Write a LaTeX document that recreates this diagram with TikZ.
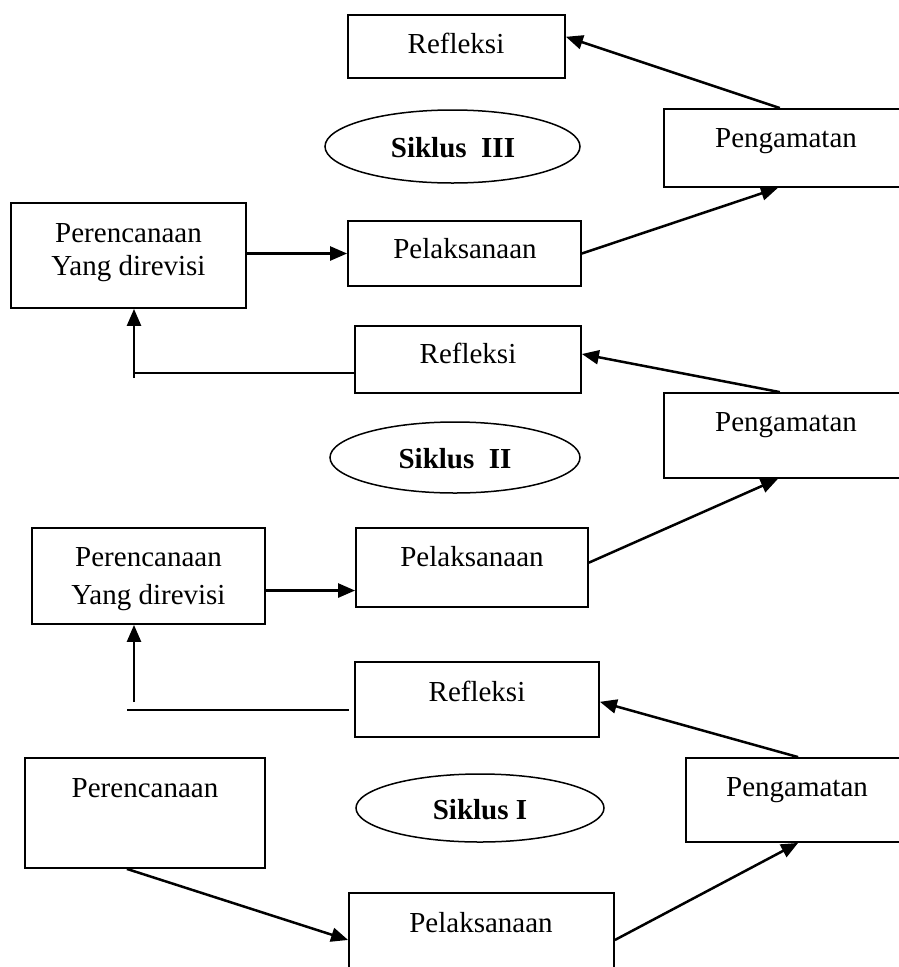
\documentclass[tikz,border=0pt]{standalone}
\usepackage{fontspec}
\setmainfont{Liberation Serif}
\usetikzlibrary{arrows.meta,shapes.geometric,calc}
\begin{document}
\begin{tikzpicture}[x=1pt,y=-1pt,
  box/.style={draw, line width=1.8pt, rectangle, inner sep=0pt},
  oval/.style={draw, line width=1.5pt, ellipse, inner sep=0pt},
  lbl/.style={font={\fontsize{29}{34}\selectfont}, inner sep=0pt, anchor=base},
  blbl/.style={lbl, font={\fontsize{29}{34}\selectfont\bfseries}},
  arr/.style={line width=2.5pt, -{Triangle[length=17pt,width=14pt]}},
  ln/.style={line width=2.2pt}]
\useasboundingbox (0,0) rectangle (899,967);

% ---------------- Siklus III ----------------
\node[box, minimum width=217, minimum height=63] (R3) at (456.5,46.5) {};
\node[box, minimum width=244, minimum height=78] (G3) at (786,148) {};
\node[oval, minimum width=255, minimum height=73] (E3) at (452.5,146.5) {};
\node[box, minimum width=235, minimum height=105] (P3p) at (128.5,255.5) {};
\node[box, minimum width=233, minimum height=65] (L3) at (464.5,253.5) {};

\node[lbl] (R3t) at (456,53) {Refleksi};
\node[lbl] (G3t) at (786,147) {Pengamatan};
\node[blbl] (E3t) at (453,157) {Siklus\ \ III};
\node[lbl] (P3t1) at (128.5,242) {Perencanaan};
\node[lbl] (P3t2) at (128.5,275) {Yang direvisi};
\node[lbl] (L3t) at (465,258) {Pelaksanaan};

% ---------------- Siklus II ----------------
\node[box, minimum width=226, minimum height=67] (R2) at (468,359.5) {};
\node[box, minimum width=244, minimum height=85] (G2) at (786,435.5) {};
\node[oval, minimum width=250, minimum height=71] (E2) at (455,457.5) {};
\node[box, minimum width=233, minimum height=96] (P2p) at (148.5,576) {};
\node[box, minimum width=232, minimum height=79] (L2) at (472,567.5) {};

\node[lbl] (R2t) at (468,363) {Refleksi};
\node[lbl] (G2t) at (786,431) {Pengamatan};
\node[blbl] (E2t) at (455,468) {Siklus\ \ II};
\node[lbl] (P2t1) at (148.5,566) {Perencanaan};
\node[lbl] (P2t2) at (148.5,604) {Yang direvisi};
\node[lbl] (L2t) at (472,566) {Pelaksanaan};

% ---------------- Siklus I ----------------
\node[box, minimum width=244, minimum height=75] (R1) at (477,699.5) {};
\node[box, minimum width=222, minimum height=84] (G1) at (797,800) {};
\node[oval, minimum width=248, minimum height=68] (E1) at (480,808) {};
\node[box, minimum width=240, minimum height=110] (P1p) at (145,813) {};
\node[box, minimum width=265, minimum height=107] (L1) at (481.5,946.5) {};

\node[lbl] (R1t) at (477,701) {Refleksi};
\node[lbl] (G1t) at (797,796) {Pengamatan};
\node[blbl] (E1t) at (480,819) {Siklus I};
\node[lbl] (P1t) at (145,797) {Perencanaan};
\node[lbl] (L1t) at (481,932) {Pelaksanaan};

% ---------------- connectors ----------------
% cycle III
\draw[arr] ($(G3.north west)!0.475!(G3.north east)$) -- ($(R3.north east)!0.35!(R3.south east)$);
\draw[arr] (L3.east) -- ($(G3.south west)!0.467!(G3.south east)$);
\draw[arr] (P3p.east |- L3.west) -- (L3.west);

% from Refleksi II back to Perencanaan III
\coordinate (h2) at ($(R2.north west)!0.70!(R2.south west)$);
\coordinate (k2) at (134,378);
\draw[ln] (h2) -- (h2 -| k2);
\draw[arr] (k2) -- (k2 |- P3p.south);

% cycle II
\draw[arr] ($(G2.north west)!0.475!(G2.north east)$) -- ($(R2.north east)!0.42!(R2.south east)$);
\draw[arr] ($(L2.north east)!0.44!(L2.south east)$) -- ($(G2.south west)!0.467!(G2.south east)$);
\coordinate (a7) at ($(L2.north west)!0.785!(L2.south west)$);
\draw[arr] (a7 -| P2p.east) -- (a7);

% from Refleksi I back to Perencanaan II
\coordinate (h1a) at (127,710);
\coordinate (h1b) at (349,710);
\coordinate (k1) at (134,702);
\draw[ln] (h1a) -- (h1b);
\draw[arr] (k1) -- (k1 |- P2p.south);

% cycle I
\draw[arr] ($(G1.north west)!0.505!(G1.north east)$) -- ($(R1.north east)!0.53!(R1.south east)$);
\draw[arr] ($(P1p.south west)!0.425!(P1p.south east)$) -- ($(L1.north west)!0.44!(L1.south west)$);
\draw[arr] ($(L1.north east)!0.44!(L1.south east)$) -- ($(G1.south west)!0.505!(G1.south east)$);
\end{tikzpicture}
\end{document}
